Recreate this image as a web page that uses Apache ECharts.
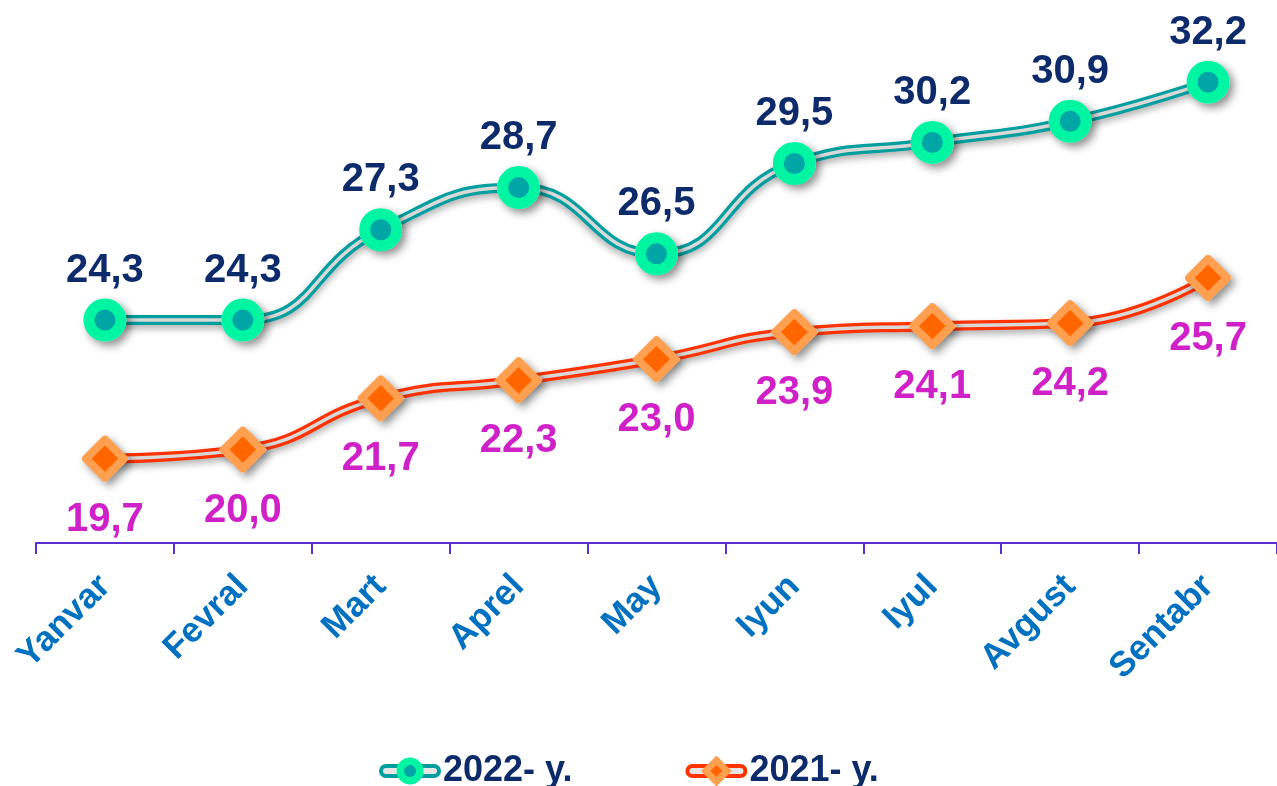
<!DOCTYPE html>
<html>
<head>
<meta charset="utf-8">
<script src="https://cdn.jsdelivr.net/npm/echarts@6/dist/echarts.min.js"></script>
<style>
  html, body { margin: 0; padding: 0; background: #fff; }
  #chart { width: 1277px; height: 786px; }
</style>
</head>
<body>
<div id="chart"></div>
<script>
// months on the x axis
const months = ['Yanvar', 'Fevral', 'Mart', 'Aprel', 'May', 'Iyun', 'Iyul', 'Avgust', 'Sentabr'];
// values per year
const y2022 = [24.3, 24.3, 27.3, 28.7, 26.5, 29.5, 30.2, 30.9, 32.2];
const y2021 = [19.7, 20.0, 21.7, 22.3, 23.0, 23.9, 24.1, 24.2, 25.7];

const FONT = "'Liberation Sans', Arial, sans-serif";
const fmt = p => p.value.toFixed(1).replace('.', ',');

// legend icons drawn as small svg images (double line + marker)
function legendIcon(lineColor, marker) {
  const svg = '<svg xmlns="http://www.w3.org/2000/svg" width="64" height="30" viewBox="0 0 64 30">' +
    '<rect x="3" y="10" width="58" height="10" rx="5" fill="#E6E6E6" stroke="' + lineColor + '" stroke-width="4"/>' +
    marker + '</svg>';
  return 'image://data:image/svg+xml;charset=utf-8,' + encodeURIComponent(svg);
}
const icon22 = legendIcon('#009E9E',
  '<circle cx="32" cy="15" r="13.5" fill="#00F5A3"/><circle cx="32" cy="15" r="6" fill="#00A6A6"/>');
const icon21 = legendIcon('#FF3300',
  '<path d="M32 1 L46 15 L32 29 L18 15 Z" fill="#FFA050" stroke="#FFA050" stroke-width="2" stroke-linejoin="round"/>' +
  '<path d="M32 9 L38 15 L32 21 L26 15 Z" fill="#FF6600"/>');

const chart = echarts.init(document.getElementById('chart'), null, { renderer: 'canvas' });

// outer coloured line + light inner line = the "double" line look
function tube(data, color) {
  return [{
    type: 'line', data: data, smooth: true, symbol: 'none', silent: true, z: 2,
    lineStyle: { color: color, width: 10, shadowColor: 'rgba(0,0,0,0.3)', shadowBlur: 7, shadowOffsetY: 4 }
  }, {
    type: 'line', data: data, smooth: true, symbol: 'none', silent: true, z: 3,
    lineStyle: { color: '#D9D9D9', width: 3.5 }
  }];
}

// grey drop shadow under the markers
function markerShadow(data, symbol, size) {
  return {
    type: 'line', data: data, smooth: true, silent: true, z: 4,
    symbol: symbol, symbolSize: size, showAllSymbol: true,
    lineStyle: { width: 0, opacity: 0 },
    itemStyle: { color: '#fff', borderWidth: 0,
      shadowColor: 'rgba(0,0,0,0.45)', shadowBlur: 9, shadowOffsetX: 4, shadowOffsetY: 4 }
  };
}

const option = {
  animation: false,
  grid: { left: 36, right: 0, top: 43, bottom: 243 },
  xAxis: {
    type: 'category',
    data: months,
    boundaryGap: true,
    axisLine: { show: true, lineStyle: { color: '#5A2ED0', width: 2 } },
    axisTick: { show: true, length: 11, lineStyle: { color: '#5A2ED0', width: 2 } },
    axisLabel: {
      rotate: 45, margin: 38, color: '#0070C0',
      fontFamily: FONT, fontWeight: 'bold', fontSize: 35, interval: 0
    }
  },
  yAxis: { type: 'value', min: 16.9, max: 33.5, show: false, splitLine: { show: false } },
  legend: {
    top: 748, left: 373, itemGap: 112, itemWidth: 64, itemHeight: 30,
    textStyle: { color: '#0D2B6B', fontFamily: FONT, fontWeight: 'bold', fontSize: 36, padding: [0, 0, 0, -4] },
    data: [
      { name: '2022- y.', icon: icon22 },
      { name: '2021- y.', icon: icon21 }
    ]
  },
  series: [
    ...tube(y2022, '#009E9E'),
    ...tube(y2021, '#FF3300'),
    markerShadow(y2022, 'circle', 43),
    markerShadow(y2021, 'diamond', 48),
    {
      name: '2022- y.', type: 'line', data: y2022, smooth: true, z: 5,
      symbol: 'circle', symbolSize: 32,
      lineStyle: { width: 0, opacity: 0 },
      itemStyle: { color: '#00A6A6', borderColor: '#00F5A3', borderWidth: 11 },
      label: { show: true, position: 'top', distance: 8, formatter: fmt,
        color: '#0D2B6B', fontFamily: FONT, fontWeight: 'bold', fontSize: 40 }
    },
    {
      name: '2021- y.', type: 'line', data: y2021, smooth: true, z: 5,
      symbol: 'diamond', symbolSize: 38,
      lineStyle: { width: 0, opacity: 0 },
      itemStyle: { color: '#FF6600', borderColor: '#FFA050', borderWidth: 8, borderJoin: 'round' },
      label: { show: true, position: 'bottom', distance: 18, formatter: fmt,
        color: '#D020C8', fontFamily: FONT, fontWeight: 'bold', fontSize: 40 }
    }
  ]
};

chart.setOption(option);
</script>
</body>
</html>
